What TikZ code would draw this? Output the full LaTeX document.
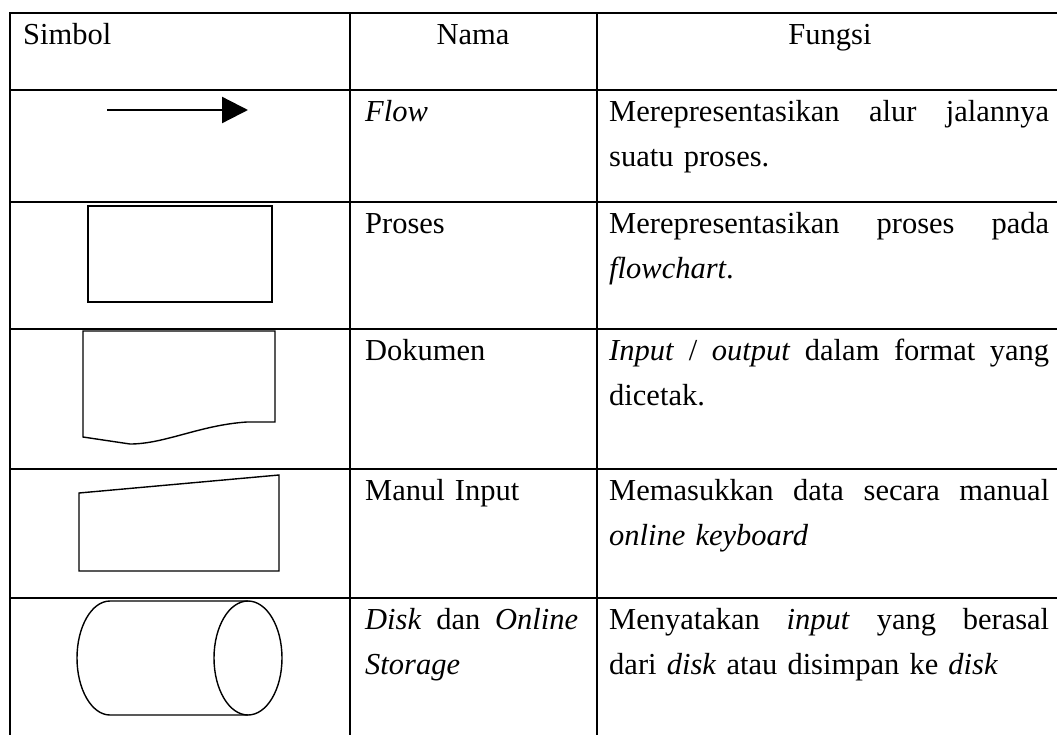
\documentclass[tikz,border=0pt]{standalone}
\usepackage{fontspec}
\setmainfont{Liberation Serif}
\usetikzlibrary{arrows.meta}
% one justified line of a given width; \gap marks a stretchable word space
\newcommand\spreadline[2]{\hbox to #1{#2}}
\newcommand\gap{\hspace{0pt plus 1fill}}

\begin{document}
\begin{tikzpicture}[x=1pt,y=-1pt,
  grid/.style={line width=2pt},
  shapeline/.style={line width=1.4pt, line join=miter},
  txt/.style={inner sep=0pt, font=\fontsize{30.5}{45}\selectfont},
  head/.style={txt, anchor=base},
  cell/.style={txt, anchor=base west, align=left},
  namecell/.style={cell, text width=213pt},
  funccell/.style={cell, text width=440pt},
  flowarrow/.style={line width=2.3pt, -{Triangle[length=26pt,width=26pt]}}]

\useasboundingbox (0,0) rectangle (1057,734);
\clip (0,0) rectangle (1057,734);
\fill[white] (0,0) rectangle (1057,734);

% table rules
\foreach \y in {13,90,202,329,469,598}
  \draw[grid] (9,\y) -- (1070,\y);
\foreach \x in {10,350,596.5}
  \draw[grid] (\x,12) -- (\x,745);

% header row
\node[txt, anchor=base west] (hSimbol) at (23,44) {Simbol};
\node[head] (hNama) at (473,44) {Nama};
\node[head] (hFungsi) at (830,44) {Fungsi};

% symbols
\coordinate (flowA) at (107,110);
\coordinate (flowB) at (248,110);
\draw[flowarrow] (flowA) -- (flowB);

\draw[shapeline] (88,206) rectangle (272,302);

\draw[shapeline] (83,437) -- (83,331) -- (275,331) -- (275,422) -- (247,422)
  .. controls (200,425) and (165,444) .. (130,444) -- cycle;

\draw[shapeline] (79,493) -- (279,475) -- (279,571) -- (79,571) -- cycle;

\draw[shapeline] (248,601) -- (110,601)
  arc[start angle=270, end angle=90, x radius=33, y radius=57] -- (248,715);
\draw[shapeline] (248,658) ellipse[x radius=34, y radius=57];

% names
\node[namecell] (nFlow) at (365,121) {\textit{Flow}};
\node[namecell] (nProses) at (365,233) {Proses};
\node[namecell] (nDok) at (365,360) {Dokumen};
\node[namecell] (nManual) at (365,500) {Manul Input};
\node[namecell] (nDisk) at (365,629)
  {\spreadline{213pt}{\textit{Disk} \gap dan \gap \textit{Online}}\\\textit{Storage}};

% functions
\node[funccell] (fFlow) at (609,121)
  {\spreadline{440pt}{Merepresentasikan \gap alur \gap jalannya}\\suatu proses.};
\node[funccell] (fProses) at (609,233)
  {\spreadline{440pt}{Merepresentasikan \gap proses \gap pada}\\\textit{flowchart}.};
\node[funccell] (fDok) at (609,360)
  {\spreadline{440pt}{\textit{Input} \gap / \gap \textit{output} \gap dalam \gap format \gap yang}\\dicetak.};
\node[funccell] (fManual) at (609,500)
  {\spreadline{440pt}{Memasukkan \gap data \gap secara \gap manual}\\\textit{online keyboard}};
\node[funccell] (fDisk) at (609,629)
  {\spreadline{440pt}{Menyatakan \gap \textit{input} \gap yang \gap berasal}\\dari \textit{disk} atau disimpan ke \textit{disk}};
\end{tikzpicture}
\end{document}
